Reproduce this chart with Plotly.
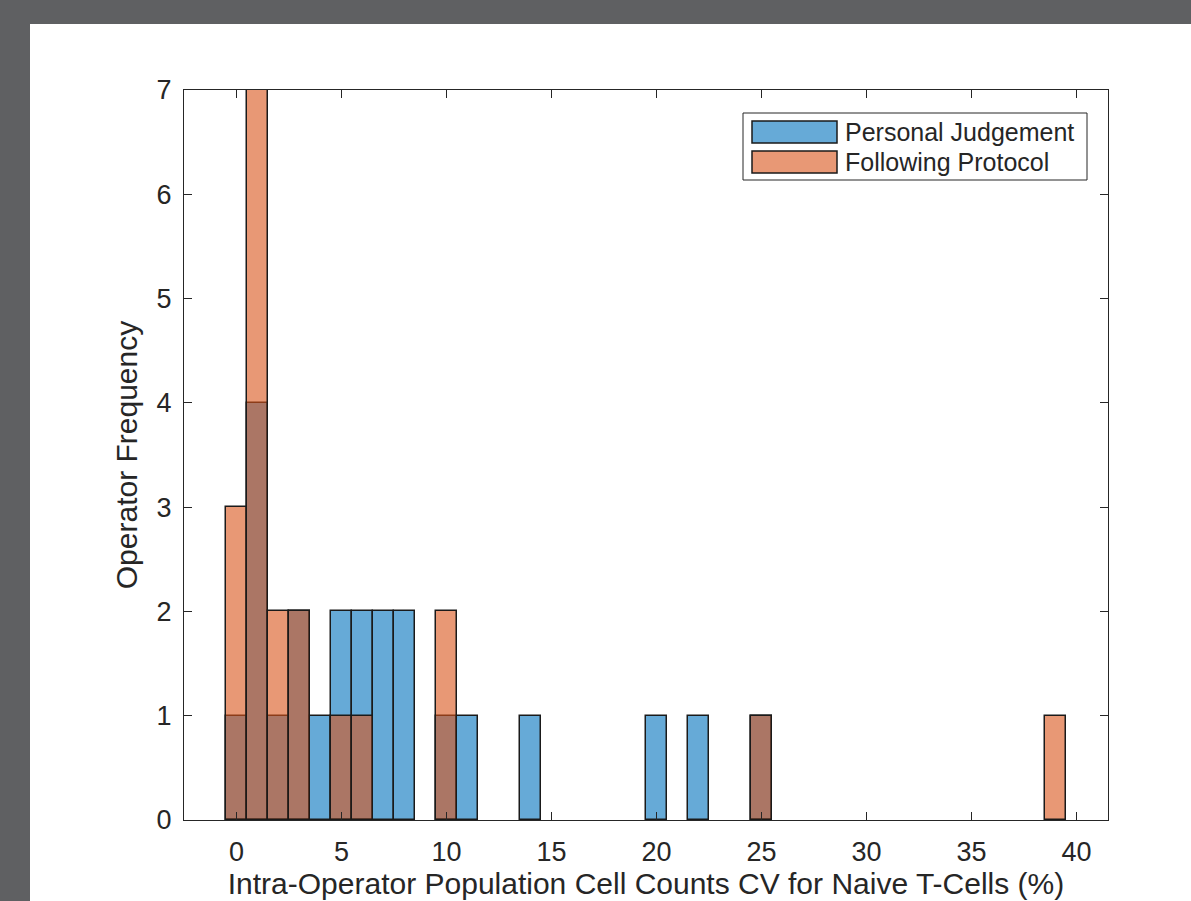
import plotly.graph_objects as go

# Histogram data (bin width 1, bins centered on integers)
pj_centers = [0, 1, 2, 3, 4, 5, 6, 7, 8, 10, 11, 14, 20, 22, 25]
pj_counts = [1, 4, 1, 2, 1, 2, 2, 2, 2, 1, 1, 1, 1, 1, 1]
fp_centers = [0, 1, 2, 3, 5, 6, 10, 25, 39]
fp_counts = [3, 7, 2, 2, 1, 1, 2, 1, 1]
series_names = ["Personal Judgement", "Following Protocol"]
x_ticks = [0, 5, 10, 15, 20, 25, 30, 35, 40]
y_ticks = [0, 1, 2, 3, 4, 5, 6, 7]

FONT = "Liberation Sans, Arial, Helvetica, sans-serif"
TXT = "#262626"
EDGE = "#1a1a1a"
COLORS = ["rgba(0,114,189,0.6)", "rgba(217,83,25,0.6)"]

fig = go.Figure()
fig.add_trace(go.Bar(
    x=pj_centers, y=pj_counts, width=1, name=series_names[0],
    marker=dict(color=COLORS[0], line=dict(color=EDGE, width=1.5)),
))
fig.add_trace(go.Bar(
    x=fp_centers, y=fp_counts, width=1, name=series_names[1],
    marker=dict(color=COLORS[1], line=dict(color=EDGE, width=1.5)),
))

W, H = 1191, 901
L, R, T, B = 184, 1108, 90, 820
pw, ph = R - L, B - T


def px(x):
    return (x - L) / pw


def py(y):
    return (B - y) / ph


shapes = [dict(
    type="rect", xref="paper", yref="paper", layer="below",
    x0=px(30), x1=px(W + 5), y0=py(H + 5), y1=py(24),
    fillcolor="white", line=dict(width=0),
)]
# MATLAB-style legend box
shapes.append(dict(
    type="rect", xref="paper", yref="paper", layer="above",
    x0=px(743), x1=px(1087), y0=py(180), y1=py(113),
    fillcolor="white", line=dict(color=TXT, width=1),
))
annotations = []
for i, name in enumerate(series_names):
    top = 121 + 30 * i
    shapes.append(dict(
        type="rect", xref="paper", yref="paper", layer="above",
        x0=px(752), x1=px(837), y0=py(top + 22), y1=py(top),
        fillcolor=COLORS[i], line=dict(color=EDGE, width=1.5),
    ))
    annotations.append(dict(
        xref="paper", yref="paper", x=px(843), y=py(top + 11),
        xanchor="left", yanchor="middle", text=name, showarrow=False,
        font=dict(size=25, family=FONT, color=TXT),
    ))

fig.update_layout(
    width=W, height=H,
    margin=dict(l=L, r=W - R, t=T, b=H - B, autoexpand=False),
    paper_bgcolor="#5f6062",
    plot_bgcolor="white",
    barmode="overlay",
    bargap=0,
    font=dict(family=FONT, color=TXT, size=27),
    showlegend=False,
    shapes=shapes,
    annotations=annotations,
)
fig.update_xaxes(
    range=[-2.5, 41.5], tickvals=x_ticks, ticktext=[str(v) for v in x_ticks],
    ticks="inside", ticklen=8, tickwidth=1, tickcolor=TXT,
    showline=True, linecolor=TXT, linewidth=1, mirror="ticks",
    showgrid=False, zeroline=False,
    tickfont=dict(size=27, family=FONT, color=TXT),
    ticklabelstandoff=8,
    title=dict(text="Intra-Operator Population Cell Counts CV for Naive T-Cells (%)",
               font=dict(size=30, family=FONT, color=TXT), standoff=2),
)
fig.update_yaxes(
    range=[0, 7], tickvals=y_ticks, ticktext=[str(v) for v in y_ticks],
    ticks="inside", ticklen=8, tickwidth=1, tickcolor=TXT,
    showline=True, linecolor=TXT, linewidth=1, mirror="ticks",
    showgrid=False, zeroline=False,
    tickfont=dict(size=27, family=FONT, color=TXT),
    ticklabelstandoff=6,
    title=dict(text="Operator Frequency", font=dict(size=30, family=FONT, color=TXT), standoff=10),
)

fig.write_html(
    "out.html",
    config={"displayModeBar": False},
    post_script="document.body.style.margin='0';document.body.style.background='#5f6062';",
)
